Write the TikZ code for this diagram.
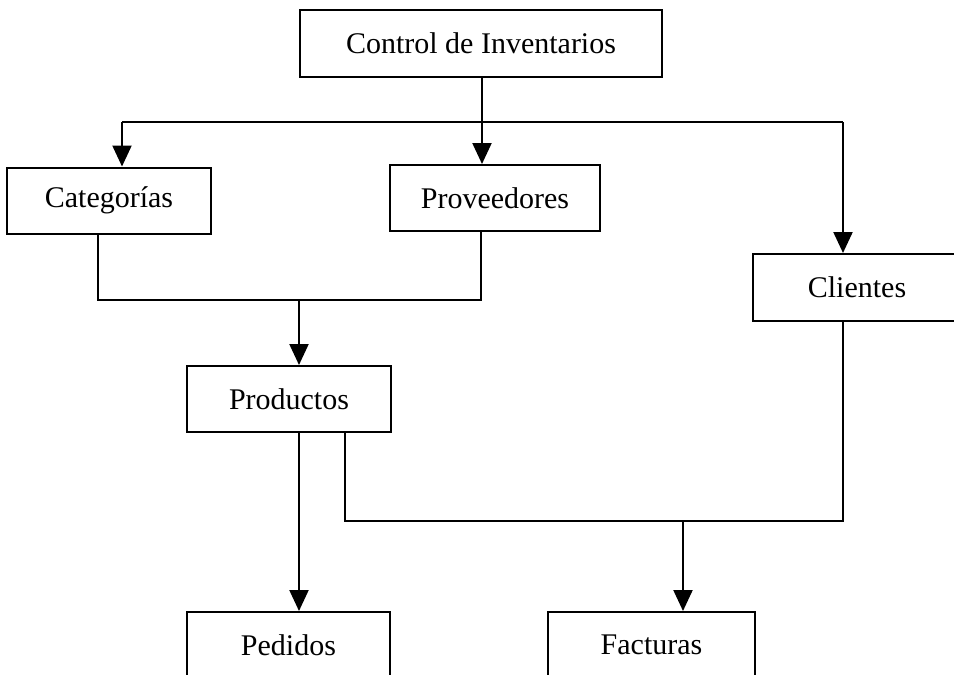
\documentclass[tikz,border=0pt]{standalone}
\usepackage{fontspec}
\setmainfont{Liberation Serif}
\usetikzlibrary{arrows.meta}

\tikzset{
  box/.style={draw, line width=2pt, rectangle, inner sep=0pt, fill=white,
              font=\fontsize{30}{36}\selectfont},
  link/.style={line width=2.2pt},
  arr/.style={link, -{Triangle[width=19pt,length=21pt]}}
}

\begin{document}
\begin{tikzpicture}[x=1pt, y=-1pt]
  \useasboundingbox (0,0) rectangle (954,675);
  \clip (0,0) rectangle (954,675);

  % boxes
  \node[box, minimum width=362pt, minimum height=67pt] (ctrl) at (481,43.5) {Control de Inventarios};
  \node[box, minimum width=204pt, minimum height=66pt] (cat)  at (109,200.5) {Categorías};
  \node[box, minimum width=210pt, minimum height=66pt] (prov) at (495,198) {Proveedores};
  \node[box, minimum width=208pt, minimum height=67pt] (cli)  at (857,287.5) {Clientes};
  \node[box, minimum width=204pt, minimum height=66pt] (prod) at (289,399) {Productos};
  \node[box, minimum width=203pt, minimum height=66pt] (ped)  at (288.5,645) {Pedidos};
  \node[box, minimum width=207pt, minimum height=66pt] (fac)  at (651.5,645) {Facturas};

  % junction points
  \coordinate (stem) at (482,122);
  \coordinate (busL) at (122,122);
  \coordinate (busR) at (843,122);
  \coordinate (jl)   at (98,300);
  \coordinate (jr)   at (481,300);
  \coordinate (jm)   at (299,300);
  \coordinate (pcol) at (299,432);
  \coordinate (k1)   at (345,521);
  \coordinate (k2)   at (843,521);
  \coordinate (kf)   at (683,521);

  % top distribution
  \draw[link] (busL) -- (busR);
  \draw[arr] (stem |- ctrl.south) -- (stem |- prov.north);
  \draw[arr] (busL) -- (busL |- cat.north);
  \draw[arr] (busR) -- (busR |- cli.north);

  % Categorías + Proveedores -> Productos
  \draw[link] (jl |- cat.south) -- (jl) -- (jr) -- (jr |- prov.south);
  \draw[arr] (jm) -- (jm |- prod.north);

  % Productos -> Pedidos
  \draw[arr] (pcol |- prod.south) -- (pcol |- ped.north);

  % Productos + Clientes -> Facturas
  \draw[link] (k1 |- prod.south) -- (k1) -- (k2) -- (k2 |- cli.south);
  \draw[arr] (kf) -- (kf |- fac.north);
\end{tikzpicture}
\end{document}
